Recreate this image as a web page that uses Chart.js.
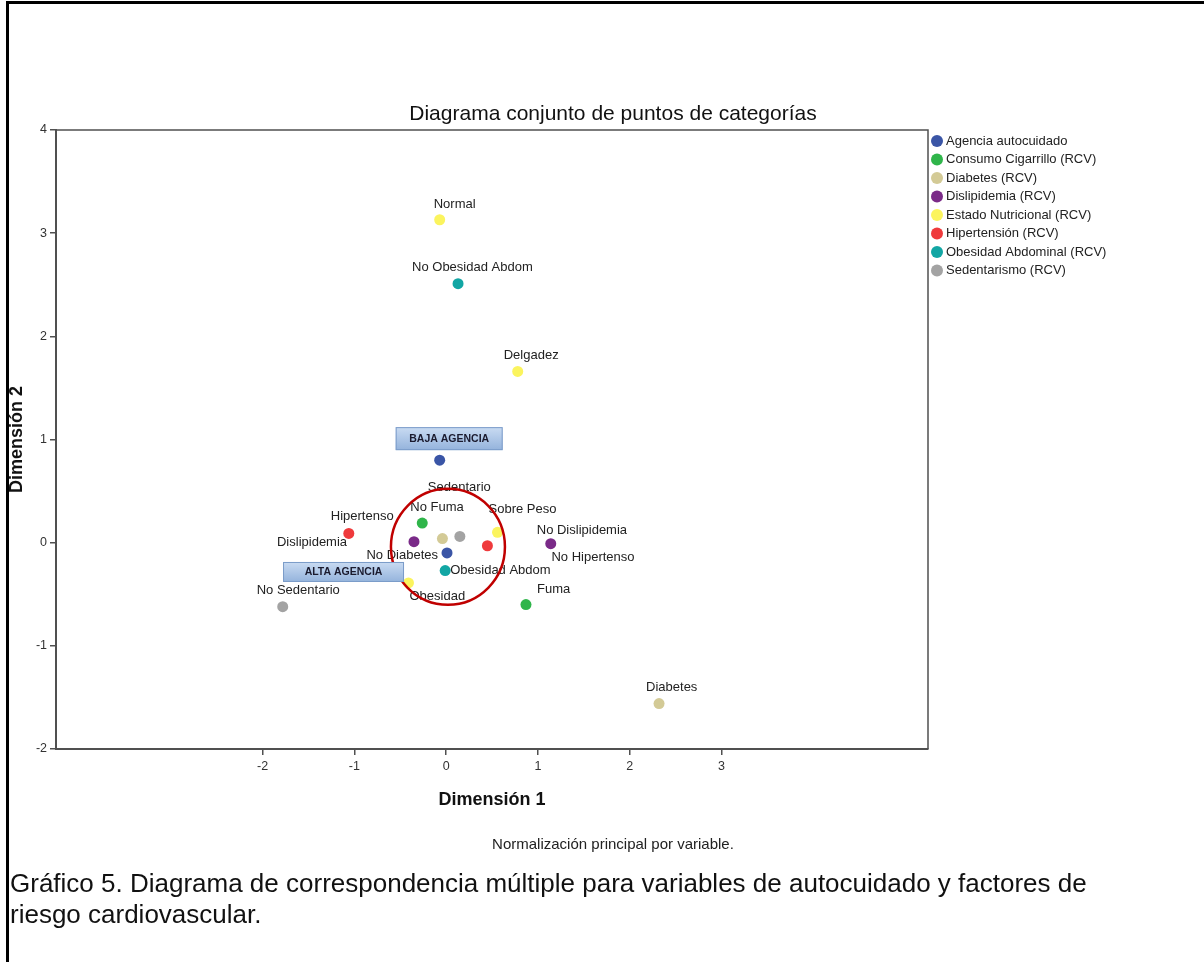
<!DOCTYPE html>
<html>
<head>
<meta charset="utf-8">
<script src="https://cdn.jsdelivr.net/npm/chart.js@4.4.1/dist/chart.umd.min.js"></script>
<style>
  html, body { margin:0; padding:0; background:#fff; }
  #wrap { position:relative; width:1204px; height:962px; overflow:hidden; }
  #frameTop { position:absolute; left:6px; top:1px; width:1198px; height:3px; background:#000; }
  #frameLeft { position:absolute; left:6px; top:1px; width:3px; height:961px; background:#000; }
  canvas { position:absolute; left:0; top:0; }
  #note { position:absolute; left:0; width:1226px; top:835px; text-align:center; font:15px "Liberation Sans", Arial, sans-serif; color:#222; }
  #caption { position:absolute; left:10px; top:868px; font:26px "Liberation Sans", Arial, sans-serif; line-height:31px; color:#111; white-space:nowrap; }
</style>
</head>
<body>
<div id="wrap">
  <canvas id="c" width="1204" height="962"></canvas>
  <div id="frameTop"></div>
  <div id="frameLeft"></div>
  <div id="note">Normalización principal por variable.</div>
  <div id="caption">Gráfico 5. Diagrama de correspondencia múltiple para variables de autocuidado y factores de<br>riesgo cardiovascular.</div>
</div>
<script>
// ---------- DATA ----------
const seriesNames = ['Agencia autocuidado','Consumo Cigarrillo (RCV)','Diabetes (RCV)','Dislipidemia (RCV)','Estado Nutricional (RCV)','Hipertensión (RCV)','Obesidad Abdominal (RCV)','Sedentarismo (RCV)'];

const agenciaCats = ['BAJA AGENCIA','ALTA AGENCIA'];
const agenciaX = [-0.07, 0.01];
const agenciaY = [0.80, -0.10];

const cigarrilloCats = ['No Fuma','Fuma'];
const cigarrilloX = [-0.26, 0.87];
const cigarrilloY = [0.19, -0.60];

const diabetesCats = ['No Diabetes','Diabetes'];
const diabetesX = [-0.04, 2.32];
const diabetesY = [0.04, -1.56];

const dislipidemiaCats = ['Dislipidemia','No Dislipidemia'];
const dislipidemiaX = [-0.35, 1.14];
const dislipidemiaY = [0.01, -0.01];

const nutricionalCats = ['Normal','Delgadez','Sobre Peso','Obesidad'];
const nutricionalX = [-0.07, 0.78, 0.56, -0.41];
const nutricionalY = [3.13, 1.66, 0.10, -0.39];

const hipertensionCats = ['Hipertenso','No Hipertenso'];
const hipertensionX = [-1.06, 0.45];
const hipertensionY = [0.09, -0.03];

const obesidadCats = ['No Obesidad Abdom','Obesidad Abdom'];
const obesidadX = [0.13, -0.01];
const obesidadY = [2.51, -0.27];

const sedentarismoCats = ['Sedentario','No Sedentario'];
const sedentarismoX = [0.15, -1.78];
const sedentarismoY = [0.06, -0.62];

const xTickValues = [-2, -1, 0, 1, 2, 3];
const yTickValues = [-2, -1, 0, 1, 2, 3, 4];
const chartTitle = 'Diagrama conjunto de puntos de categorías';
const xTitle = 'Dimensión 1';
const yTitle = 'Dimensión 2';

// ---------- STYLE ----------
const colors = ['#3a55a6','#2fb54a','#d3ca96','#7a2a88','#fbf45e','#ef3a3c','#12a6a4','#a3a3a3'];
// label offsets in pixels relative to the point: [dx, dy]
const labelOffsets = {
  'No Fuma':[-12,-16], 'Fuma':[11,-15],
  'No Diabetes':[-76,17], 'Diabetes':[-13,-16],
  'Dislipidemia':[-137,1], 'No Dislipidemia':[-14,-13],
  'Normal':[-6,-15], 'Delgadez':[-14,-16], 'Sobre Peso':[-9,-23], 'Obesidad':[1,14],
  'Hipertenso':[-18,-17], 'No Hipertenso':[64,12],
  'No Obesidad Abdom':[-46,-16], 'Obesidad Abdom':[5,0],
  'Sedentario':[-32,-49], 'No Sedentario':[-26,-16]
};
// annotation boxes for agencia categories: [left dx, top dy, width, height] relative to point
const boxGeom = [[-44,-33,107,23],[-164,9,121,20]];
const ringCenter = {x:0.02, y:-0.04};

function pts(xs, ys, cats){ return xs.map((x,i)=>({x:x, y:ys[i], label:cats[i]})); }
const allSeries = [
  pts(agenciaX, agenciaY, agenciaCats),
  pts(cigarrilloX, cigarrilloY, cigarrilloCats),
  pts(diabetesX, diabetesY, diabetesCats),
  pts(dislipidemiaX, dislipidemiaY, dislipidemiaCats),
  pts(nutricionalX, nutricionalY, nutricionalCats),
  pts(hipertensionX, hipertensionY, hipertensionCats),
  pts(obesidadX, obesidadY, obesidadCats),
  pts(sedentarismoX, sedentarismoY, sedentarismoCats)
];

const FONT = '"Liberation Sans", Arial, sans-serif';

const decor = {
  id:'decor',
  beforeDraw(chart){
    const ctx = chart.ctx;
    ctx.save(); ctx.fillStyle='#fff'; ctx.fillRect(0,0,chart.width,chart.height); ctx.restore();
  },
  afterDraw(chart){
    const ctx = chart.ctx, a = chart.chartArea;
    const xs = chart.scales.x, ys = chart.scales.y;
    ctx.save();
    // frame (top & right)
    ctx.strokeStyle='#505050'; ctx.lineWidth=1.5;
    ctx.beginPath(); ctx.moveTo(a.left, a.top); ctx.lineTo(a.right, a.top); ctx.lineTo(a.right, a.bottom); ctx.stroke();
    // title
    ctx.fillStyle='#111'; ctx.font='21px '+FONT; ctx.textAlign='center'; ctx.textBaseline='middle';
    ctx.fillText(chartTitle, 613, 114);
    // point labels
    ctx.font='13px '+FONT; ctx.fillStyle='#222'; ctx.textAlign='left'; ctx.textBaseline='middle';
    chart.data.datasets.forEach((ds, di)=>{
      const meta = chart.getDatasetMeta(di);
      ds.data.forEach((p, i)=>{
        const off = labelOffsets[p.label];
        if(!off) return;
        const el = meta.data[i];
        ctx.fillText(p.label, el.x+off[0], el.y+off[1]);
      });
    });
    // ring
    const cx = xs.getPixelForValue(ringCenter.x), cy = ys.getPixelForValue(ringCenter.y);
    ctx.strokeStyle='#c00000'; ctx.lineWidth=2.5;
    ctx.beginPath(); ctx.ellipse(cx, cy, 57, 58, 0, 0, Math.PI*2); ctx.stroke();
    // agencia boxes
    const meta0 = chart.getDatasetMeta(0);
    chart.data.datasets[0].data.forEach((p, i)=>{
      const el = meta0.data[i], g = boxGeom[i];
      const bx = el.x+g[0], by = el.y+g[1];
      const grad = ctx.createLinearGradient(0, by, 0, by+g[3]);
      grad.addColorStop(0,'#c9dbf2'); grad.addColorStop(1,'#94b3dc');
      ctx.fillStyle=grad; ctx.fillRect(bx, by, g[2], g[3]);
      ctx.strokeStyle='#7b9cc9'; ctx.lineWidth=1; ctx.strokeRect(bx+0.5, by+0.5, g[2]-1, g[3]-1);
      ctx.fillStyle='#1a1a2e'; ctx.font='bold 10.5px '+FONT; ctx.textAlign='center'; ctx.textBaseline='middle';
      ctx.fillText(p.label, bx+g[2]/2, by+g[3]/2+0.5);
    });
    // legend
    ctx.textAlign='left'; ctx.textBaseline='middle'; ctx.font='13px '+FONT;
    chart.data.datasets.forEach((ds, i)=>{
      const y = 141 + i*18.5;
      ctx.fillStyle = ds.backgroundColor;
      ctx.beginPath(); ctx.arc(937, y, 6, 0, Math.PI*2); ctx.fill();
      ctx.fillStyle='#222';
      ctx.fillText(ds.label, 946, y);
    });
    ctx.restore();
  }
};

new Chart(document.getElementById('c'), {
  type:'scatter',
  data:{
    datasets: allSeries.map((d,i)=>({
      label: seriesNames[i], data: d,
      backgroundColor: colors[i], borderColor: colors[i], borderWidth:0,
      pointRadius:5.5, pointHoverRadius:5.5
    }))
  },
  options:{
    responsive:false, animation:false, devicePixelRatio:1,
    layout:{ padding:{ left:0, top:130, right:276, bottom:151 } },
    plugins:{ legend:{display:false}, tooltip:{enabled:false}, title:{display:false} },
    scales:{
      x:{
        type:'linear', min:-4.25, max:5.25,
        afterBuildTicks(s){ s.ticks = xTickValues.map(v=>({value:v})); },
        afterFit(s){ s.height = 62; },
        grid:{ drawOnChartArea:false, drawTicks:true, tickLength:6, color:'#505050', tickColor:'#505050', lineWidth:1.5 },
        border:{ display:true, color:'#505050', width:2 },
        ticks:{ color:'#333', font:{ family:FONT, size:12.5 }, padding:4, maxRotation:0, autoSkip:false, callback:v=>String(v) },
        title:{ display:true, text:xTitle, color:'#111', font:{ family:FONT, size:18, weight:'bold' }, padding:{top:0,bottom:0} }
      },
      y:{
        type:'linear', min:-2, max:4,
        afterBuildTicks(s){ s.ticks = yTickValues.map(v=>({value:v})); },
        afterFit(s){ s.width = 56; },
        grid:{ drawOnChartArea:false, drawTicks:true, tickLength:6, color:'#505050', tickColor:'#505050', lineWidth:1.5 },
        border:{ display:true, color:'#505050', width:2 },
        ticks:{ color:'#333', font:{ family:FONT, size:12.5 }, padding:3, autoSkip:false, callback:v=>String(v) },
        title:{ display:true, text:yTitle, color:'#111', font:{ family:FONT, size:18, weight:'bold' }, padding:{top:6,bottom:0} }
      }
    }
  },
  plugins:[decor]
});
</script>
</body>
</html>
